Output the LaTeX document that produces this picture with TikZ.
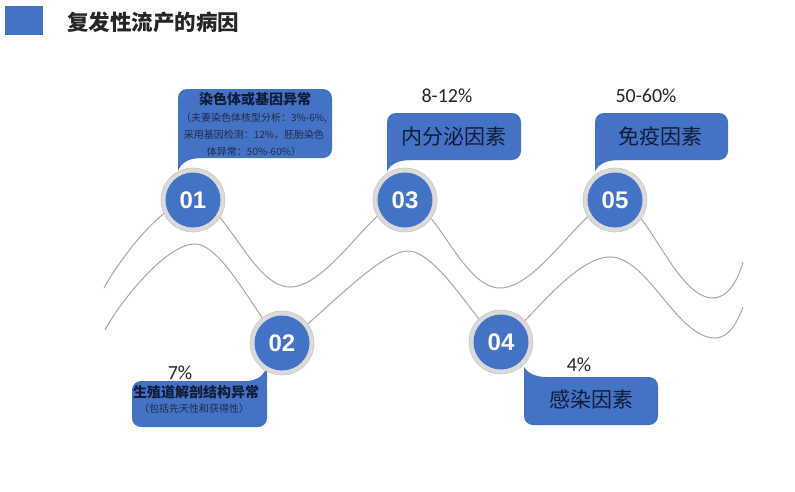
\documentclass[tikz,border=0pt]{standalone}
\usepackage{fontspec}
\setmainfont{Liberation Sans}
\newfontfamily\cjk{Noto Sans CJK SC}
\newfontfamily\pctfont{Carlito}
\definecolor{mainblue}{HTML}{4472C4}
\definecolor{ringgray}{HTML}{DADADA}
\definecolor{ringedge}{HTML}{C9C9C9}
\definecolor{wavegray}{HTML}{A8A8A8}
\definecolor{darktext}{HTML}{111C3A}
\definecolor{softtext}{HTML}{1F2B50}
\definecolor{titletext}{HTML}{262626}
\tikzset{
  wave/.style={draw=wavegray, line width=1pt},
  ring/.style={circle, fill=ringgray, draw=ringedge, line width=0.6pt, minimum size=64pt, inner sep=0pt},
  disc/.style={circle, fill=mainblue, minimum size=55pt, inner sep=0pt, text=white, font=\bfseries\fontsize{24}{28}\selectfont},
  bubble/.style={fill=mainblue},
  pct/.style={font=\pctfont\fontsize{20}{24}\selectfont, text=titletext, inner sep=0pt},
  bigcjk/.style={font=\cjk\fontsize{21}{25}\selectfont, text=darktext, inner sep=0pt},
  boldcjk/.style={font=\cjk\bfseries\fontsize{14}{16}\selectfont, text=darktext, inner sep=0pt},
}
% top bubble: x1 y1 x2 y2 ytip (tail at bottom-left)
\newcommand{\topbubble}[5]{%
  \fill[bubble, rounded corners=9pt] (#1,#2) rectangle (#3,#4);
  \fill[bubble] (#1,{#4-12}) rectangle ({#1+12},#4);
  \fill[bubble] (#1,{#4-1}) -- (#1,#5) .. controls ({#1+3},{#4+5}) and ({#1+10},#4) .. ({#1+24},#4) -- ({#1+24},{#4-1}) -- cycle;
}
% bottom bubble with tail at top-left: x1 y1 x2 y2 ytip
\newcommand{\botbubbleL}[5]{%
  \fill[bubble, rounded corners=9pt] (#1,#2) rectangle (#3,#4);
  \fill[bubble] (#1,#2) rectangle ({#1+12},{#2+12});
  \fill[bubble] (#1,{#2+1}) -- (#1,#5) .. controls ({#1+3},{#2-5}) and ({#1+10},#2) .. ({#1+22},#2) -- ({#1+22},{#2+1}) -- cycle;
}
% bottom bubble with tail at top-right: x1 y1 x2 y2 ytip
\newcommand{\botbubbleR}[5]{%
  \fill[bubble, rounded corners=9pt] (#1,#2) rectangle (#3,#4);
  \fill[bubble] ({#3-12},#2) rectangle (#3,{#2+12});
  \fill[bubble] (#3,{#2+1}) -- (#3,#5) .. controls ({#3-3},{#2-5}) and ({#3-10},#2) .. ({#3-22},#2) -- ({#3-22},{#2+1}) -- cycle;
}
\begin{document}
\begin{tikzpicture}[x=1pt,y=-1pt]
\useasboundingbox[fill=white] (0,0) rectangle (795,491);

% title
\node[fill=mainblue, minimum width=38pt, minimum height=29pt, inner sep=0pt, anchor=north west] (sq) at (5,6) {};
\node[anchor=west, font=\cjk\bfseries\fontsize{21.5}{25}\selectfont, text=titletext, inner sep=0pt] (title) at (67,22) {复发性流产的病因};

% waves
\draw[wave] (104,288) .. controls (118,262) and (163,200) .. (193,200)
  .. controls (225,200) and (252,287) .. (290,287)
  .. controls (330,287) and (375,200) .. (405,200)
  .. controls (435,200) and (462,288) .. (500,288)
  .. controls (540,288) and (586,200) .. (616,200)
  .. controls (646,200) and (675,298) .. (713,298)
  .. controls (728,298) and (738,280) .. (743,262);
\draw[wave] (105,330) .. controls (118,305) and (165,244) .. (195,244)
  .. controls (226,244) and (268,340) .. (283,340)
  .. controls (300,340) and (375,251) .. (408,251)
  .. controls (440,251) and (486,340) .. (501,340)
  .. controls (516,340) and (570,257) .. (610,257)
  .. controls (648,257) and (677,338) .. (715,338)
  .. controls (730,338) and (738,320) .. (743,307);

% bubbles
\topbubble{178}{89}{332}{158}{171}
\topbubble{387}{113}{521}{160}{171}
\topbubble{595}{113}{728}{160}{171}
\botbubbleR{132}{381}{267}{427}{366}
\botbubbleL{524}{377}{658}{425}{367}

% circles
\node[ring] (r1) at (193,200) {};
\node[disc] (c1) at (r1) {01};
\node[ring] (r2) at (282,343) {};
\node[disc] (c2) at (r2) {02};
\node[ring] (r3) at (405,200) {};
\node[disc] (c3) at (r3) {03};
\node[ring] (r4) at (501,342) {};
\node[disc] (c4) at (r4) {04};
\node[ring] (r5) at (615,200) {};
\node[disc] (c5) at (r5) {05};

% callout texts
\node[boldcjk] (t1) at (255,99) {染色体或基因异常};
\node[font=\cjk\fontsize{10}{17}\selectfont, align=center, text=softtext, inner sep=0pt] (t1b) at (254,135) {（夫妻染色体核型分析：3\%-6\%,\\采用基因检测：12\%，胚胎染色\\体异常：50\%-60\%）};
\node[bigcjk] (t3) at (454,137) {内分泌因素};
\node[bigcjk] (t5) at (660,136) {免疫因素};
\node[bigcjk] (t4) at (591,399) {感染因素};
\node[boldcjk] (t2) at (196,392) {生殖道解剖结构异常};
\node[font=\cjk\fontsize{10}{12}\selectfont, text=softtext, inner sep=0pt] (t2b) at (194,409) {（包括先天性和获得性）};

% percentages
\node[pct] (p3) at (447,96) {8-12\%};
\node[pct] (p5) at (646,96) {50-60\%};
\node[pct] (p4) at (579,365) {4\%};
\node[pct] (p2) at (180,373) {7\%};
\end{tikzpicture}
\end{document}
